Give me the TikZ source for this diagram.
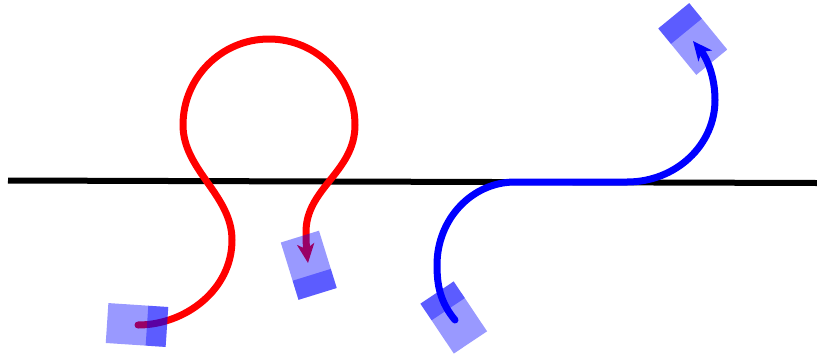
\documentclass[tikz,border=0pt]{standalone}
\usetikzlibrary{arrows.meta}
\tikzset{
  track/.style={line width=6pt, black},
  motion/.style={line width=7pt, line cap=round,
    -{Stealth[length=19pt,width=17pt,inset=5pt]}},
  robotbody/.style={fill=blue, fill opacity=0.4},
}
% robot footprint: centre, canvas heading angle; darker strip marks the front
\newcommand\robotbox[2]{%
  \begin{scope}[shift={(#1)}, rotate=#2]
    \fill[robotbody] (-30,-20) rectangle (30,20);
    \fill[robotbody] (10,-20) rectangle (30,20);
  \end{scope}}
\begin{document}
\begin{tikzpicture}[x=1pt,y=-1pt]
  \useasboundingbox (0,0) rectangle (817,354);

  % reference line
  \coordinate (l0) at (8,180.5);
  \coordinate (l1) at (817,183);
  \draw[track] (l0) -- (l1);

  % red manoeuvre with a full loop
  \coordinate (r0) at (138,325);
  \coordinate (r1) at (232,240);
  \coordinate (r2) at (183,125);
  \coordinate (r3) at (269,39);
  \coordinate (r4) at (355,125);
  \coordinate (r5) at (306,232);
  \coordinate (r6) at (308,263);
  \draw[motion, red] (r0) .. controls (185,325) and (232,290) .. (r1)
    .. controls (232,195) and (183,170) .. (r2)
    .. controls (183,77.5) and (221.5,39) .. (r3)
    .. controls (316.5,39) and (355,77.5) .. (r4)
    .. controls (355,172) and (306,188) .. (r5)
    .. controls (306,245) and (307,255) .. (r6);

  % blue manoeuvre along the line
  \coordinate (b0) at (455,320);
  \coordinate (b1) at (437,265);
  \coordinate (b2) at (515,182);
  \coordinate (b3) at (627,182);
  \coordinate (b4) at (715,100);
  \coordinate (b5) at (693,41);
  \draw[motion, blue] (b0) .. controls (440,302) and (437,285) .. (b1)
    .. controls (437,219) and (472,182) .. (b2) -- (b3)
    .. controls (676,182) and (715,145) .. (b4)
    .. controls (715,75) and (706,57) .. (b5);

  % robot footprints
  \robotbox{137,325}{-3.8}
  \robotbox{308.75,265.25}{-72.8}
  \robotbox{453.75,317.5}{123.8}
  \robotbox{692.75,39}{129.3}
\end{tikzpicture}
\end{document}
